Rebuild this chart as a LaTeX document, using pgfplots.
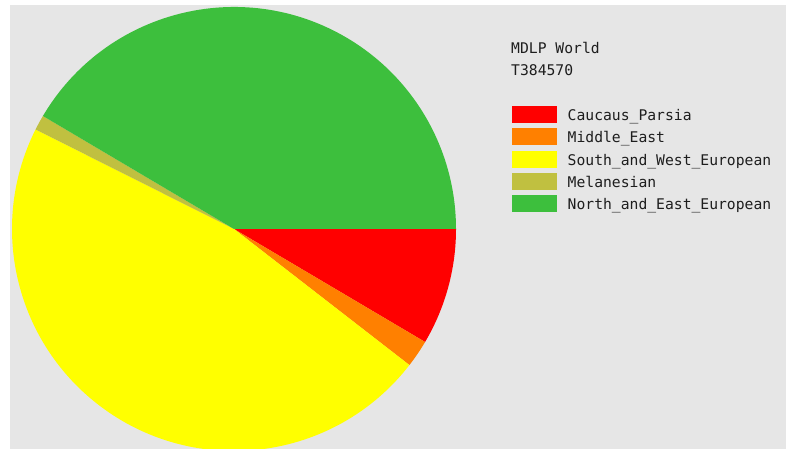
\documentclass[border=0pt]{standalone}
\usepackage{pgfplots}
\usepackage{pgfplotstable}
\usepackage{fontspec}
\setmonofont{DejaVu Sans Mono}
\pgfplotsset{compat=1.18}
\definecolor{bg}{RGB}{230,230,230}
\definecolor{cRed}{RGB}{255,0,0}
\definecolor{cOrange}{RGB}{255,128,0}
\definecolor{cYellow}{RGB}{255,255,0}
\definecolor{cOlive}{RGB}{192,192,64}
\definecolor{cGreen}{RGB}{61,191,61}
\definecolor{txt}{RGB}{30,30,30}

\pgfplotstableread{
label share color
Caucaus\_Parsia 8.5 cRed
Middle\_East 2.0 cOrange
South\_and\_West\_European 46.9 cYellow
Melanesian 1.1 cOlive
North\_and\_East\_European 41.5 cGreen
}\piedata

\begin{document}
\begin{tikzpicture}
\begin{axis}[
  x=1bp, y=1bp,
  xmin=0, xmax=787, ymin=0, ymax=449,
  hide axis, scale only axis,
  clip=true,
]
\fill[white] (axis cs:0,0) rectangle (axis cs:787,449);
\fill[bg] (axis cs:10,0) rectangle (axis cs:786,444);
\pgfplotstablegetrowsof{\piedata}
\pgfmathtruncatemacro{\N}{\pgfplotsretval-1}
\def\cum{0}
\pgfplotsforeachungrouped \i in {0,...,\N}{
  \pgfplotstablegetelem{\i}{share}\of\piedata \let\s\pgfplotsretval
  \pgfplotstablegetelem{\i}{color}\of\piedata \let\c\pgfplotsretval
  \pgfplotstablegetelem{\i}{label}\of\piedata \let\l\pgfplotsretval
  \pgfmathsetmacro{\a}{\cum*3.6}
  \pgfmathsetmacro{\b}{(\cum+\s)*3.6}
  \pgfmathsetmacro{\ty}{449-106-22.3*\i}
  \pgfmathsetmacro{\tb}{\ty-17}
  \pgfmathsetmacro{\tt}{\ty-14.5}
  \edef\temp{%
    \noexpand\fill[\c] (axis cs:234,220) -- ++(-\a:222bp) arc[start angle=-\a, end angle=-\b, radius=222bp] -- cycle;
    \noexpand\fill[\c] (axis cs:511.5,\tb) rectangle (axis cs:556.5,\ty);
    \noexpand\node[anchor=base west, inner sep=0pt, text=txt, font=\noexpand\fontsize{14.7bp}{17bp}\noexpand\ttfamily] at (axis cs:567.5,\tt) {\expandafter\noexpand\l};
  }%
  \temp
  \pgfmathsetmacro{\cum}{\cum+\s}
}
\node[anchor=base west, inner sep=0pt, text=txt, font=\fontsize{14.7bp}{17bp}\ttfamily] at (axis cs:511,395) {MDLP World};
\node[anchor=base west, inner sep=0pt, text=txt, font=\fontsize{14.7bp}{17bp}\ttfamily] at (axis cs:511,373.3) {T384570};
\end{axis}
\end{tikzpicture}
\end{document}
